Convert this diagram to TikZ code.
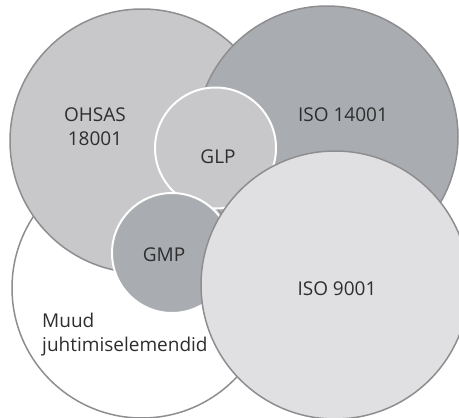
\documentclass[tikz,border=0pt]{standalone}
\usepackage{fontspec}
\setmainfont{Open Sans}
\begin{document}
\begin{tikzpicture}[x=1pt,y=-1pt,
  circ/.style={circle,inner sep=0pt,draw=bordergray,line width=1.5pt},
  wcirc/.style={circle,inner sep=0pt,draw=white,line width=2pt},
  lbl/.style={inner sep=0pt,text=txtgray,font=\fontsize{19}{24}\selectfont}]
\definecolor{bordergray}{HTML}{8E8E90}
\definecolor{lightfill}{HTML}{C8C8CA}
\definecolor{darkfill}{HTML}{A9ADB2}
\definecolor{palefill}{HTML}{E0E0E2}
\definecolor{txtgray}{HTML}{2E2E2E}
\useasboundingbox (0,0) rectangle (459,418);
\clip (0,0) rectangle (459,418);
\node[circ,fill=white,minimum size=260pt] (muudc) at (142,288) {};
\node[circ,fill=lightfill,minimum size=264pt] (ohsasc) at (142,141) {};
\node[circ,fill=darkfill,minimum size=262pt] (isoaec) at (327,137) {};
\node[wcirc,fill=lightfill,minimum size=121pt] (glpc) at (215.5,148) {};
\node[wcirc,fill=darkfill,minimum size=120pt] (gmpc) at (172,253) {};
\node[circ,fill=palefill,minimum size=268pt] (isoqc) at (335,285) {};
\node[lbl,align=center] (ohsas) at (95,127) {OHSAS\\18001};
\node[lbl] (isoae) at (343,115) {ISO 14001};
\node[lbl] (glp) at (218,157) {GLP};
\node[lbl] (gmp) at (164,255) {GMP};
\node[lbl] (isoq) at (337,289) {ISO 9001};
\node[lbl,align=left,anchor=west] (muud) at (42,334.5) {Muud\\juhtimiselemendid};
\end{tikzpicture}
\end{document}
